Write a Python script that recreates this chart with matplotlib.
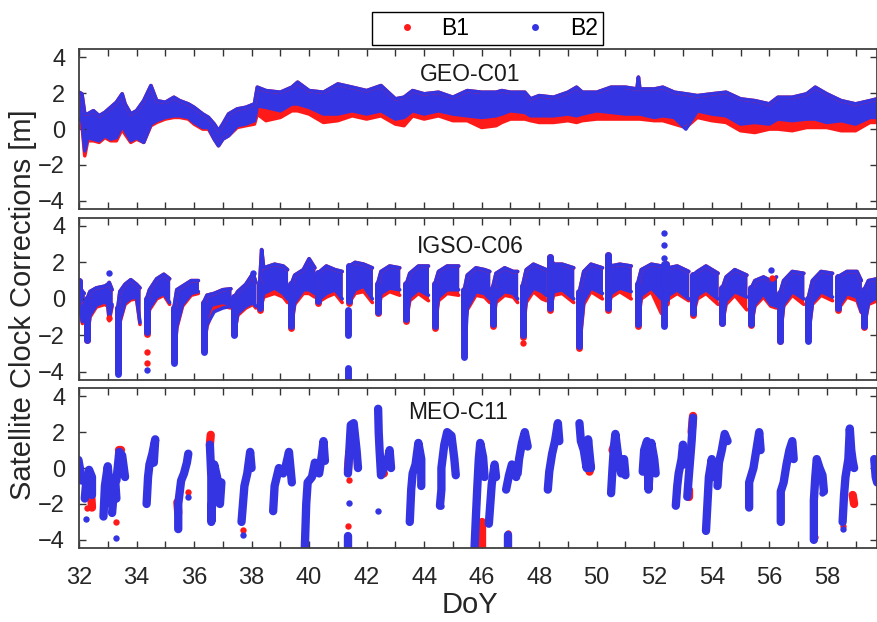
import matplotlib.pyplot as plt
from matplotlib.lines import Line2D
from matplotlib.ticker import MultipleLocator

plt.rcParams['font.family'] = ['Liberation Sans', 'DejaVu Sans']

RED = '#ff1a1a'
BLUE = '#3434e2'

# ---- GEO-C01 : B2 band (lo/hi) and lower edge of B1 band ----
geo_day = [32.0, 32.1, 32.2, 32.3, 32.5, 32.7, 32.9, 33.1, 33.3, 33.5, 33.6, 33.8, 34.0, 34.25,
           34.5, 34.7, 35.0, 35.3, 35.5, 35.8, 36.0, 36.3, 36.5, 36.7, 36.85, 37.0, 37.2, 37.5,
           37.8, 38.1, 38.2, 38.5, 39.0, 39.4, 39.6, 40.0, 40.5, 41.0, 41.5, 42.0, 42.5, 43.0,
           43.3, 43.6, 44.0, 44.5, 45.0, 45.5, 46.0, 46.5, 46.7, 47.0, 47.5, 47.7, 48.0, 48.5,
           49.0, 49.3, 49.5, 50.0, 50.5, 51.0, 51.4, 51.45, 51.5, 52.0, 52.3, 52.7, 53.1, 53.5,
           54.0, 54.5, 55.0, 55.5, 56.0, 56.3, 56.8, 57.3, 57.6, 58.0, 58.5, 59.0, 59.5, 59.75]
geo_b2_hi = [2.05, 1.96, 0.84, 0.84, 1.02, 0.74, 0.93, 1.21, 1.49, 1.96, 1.40, 0.84, 1.02, 1.58,
             2.42, 1.58, 1.49, 1.77, 1.58, 1.40, 1.21, 0.84, 0.65, 0.28, -0.09, 0.28, 0.84, 1.12,
             1.21, 1.40, 2.33, 2.14, 2.05, 2.33, 2.61, 2.14, 2.05, 2.51, 2.33, 2.14, 2.42, 1.68,
             1.77, 2.14, 1.96, 2.05, 1.77, 2.14, 2.05, 2.05, 2.14, 2.05, 2.05, 1.68, 1.86, 1.77,
             2.05, 2.33, 2.05, 2.05, 2.33, 2.33, 2.23, 2.89, 2.23, 2.23, 2.33, 2.05, 1.96, 1.86,
             1.96, 2.05, 1.68, 1.58, 1.40, 1.77, 1.77, 1.96, 2.33, 1.96, 1.58, 1.40, 1.58, 1.68]
geo_b2_lo = [0.47, 0.56, -1.21, -0.47, -0.56, -0.65, -0.37, -0.56, -0.47, 0.19, -0.09, -0.65, -0.47, -0.74,
             0.28, 0.47, 0.65, 0.74, 0.74, 0.65, 0.37, 0.09, 0.09, -0.56, -0.93, -0.56, -0.37, 0.19,
             0.28, 0.47, 1.30, 1.21, 1.02, 1.40, 1.40, 1.21, 0.84, 0.84, 1.02, 0.84, 1.02, 0.56,
             0.65, 1.02, 0.84, 1.02, 0.84, 0.74, 0.65, 0.74, 0.84, 1.02, 0.93, 0.74, 0.74, 0.74,
             0.84, 0.74, 0.84, 1.02, 0.93, 0.84, 0.84, 0.84, 0.84, 0.65, 0.74, 0.65, 0.0, 1.02,
             0.84, 0.74, 0.28, 0.37, 0.28, 0.56, 0.47, 0.56, 0.56, 0.37, 0.47, 0.28, 0.65, 0.65]
geo_b1_lo = [0.09, 0.28, -1.49, -0.65, -0.65, -0.74, -0.47, -0.65, -0.65, 0.0, -0.28, -0.74, -0.56, -0.74,
             0.19, 0.37, 0.56, 0.65, 0.65, 0.56, 0.28, 0.0, 0.0, -0.56, -0.93, -0.56, -0.37, 0.09,
             0.19, 0.28, 0.84, 0.47, 0.65, 1.02, 1.02, 0.84, 0.37, 0.47, 0.74, 0.56, 0.74, 0.28,
             0.19, 0.74, 0.56, 0.74, 0.47, 0.47, 0.09, 0.19, 0.37, 0.56, 0.56, 0.47, 0.37, 0.37,
             0.47, 0.37, 0.47, 0.56, 0.56, 0.56, 0.56, 0.56, 0.56, 0.47, 0.47, 0.28, 0.09, 0.65,
             0.47, 0.37, -0.09, -0.19, 0.0, 0.0, -0.09, 0.09, 0.09, 0.09, -0.09, -0.09, 0.37, 0.37]

# ---- IGSO-C06 : daily arcs, each vertex = (day, B2 lo, B2 hi, B1 lo) ----
igso_arcs = [
    [(32.0, -0.05, 0.96, -0.1), (32.05, -0.6, 0.6, -0.7), (32.12, -1.25, 0.4, -1.35), (32.18, -0.7, 0.3, -0.8)],
    [(32.28, -2.25, 0.0, -2.25), (32.38, -0.9, 0.4, -1.0), (32.6, -0.35, 0.6, -0.45), (32.9, -0.15, 0.7, -0.3),
     (33.0, -0.3, 0.8, -0.4), (33.05, -1.05, 0.9, -1.2), (33.15, -0.3, 0.5, -0.4)],
    [(33.35, -4.1, -0.5, -3.9), (33.42, -1.2, 0.4, -1.3), (33.6, -0.2, 0.8, -0.3), (33.8, 0.05, 1.05, -0.05),
     (34.0, 0.1, 0.8, 0.0), (34.12, -1.3, 0.6, -1.4)],
    [(34.35, -1.8, 0.0, -1.9), (34.45, -0.5, 0.5, -0.6), (34.7, 0.1, 1.1, 0.0), (34.95, 0.3, 1.35, 0.2),
     (35.15, -0.2, 1.1, -0.3)],
    [(35.3, -3.5, -0.5, -3.4), (35.4, -1.5, 0.5, -1.6), (35.6, -0.3, 0.7, -0.4), (35.9, 0.3, 1.0, 0.2),
     (36.15, 0.4, 1.0, 0.3)],
    [(36.33, -2.9, -0.2, -2.8), (36.45, -1.4, 0.2, -1.5), (36.7, -0.7, 0.3, -0.5), (37.0, -0.5, 0.5, -0.4),
     (37.28, -0.4, 0.55, -0.5)],
    [(37.4, -2.0, 0.1, -1.9), (37.52, -0.8, 0.4, -0.9), (37.8, -0.4, 0.8, -0.5), (38.05, -0.2, 1.4, -0.3),
     (38.15, -0.4, 0.9, -0.5)],
    [(38.28, -0.5, 0.8, -0.6), (38.35, -0.2, 2.7, -0.3), (38.42, 0.3, 1.7, 0.1), (38.8, 0.6, 1.9, 0.3),
     (39.1, 0.3, 1.8, 0.1), (39.25, 0.0, 1.6, -0.2)],
    [(39.38, -1.5, 0.8, -1.6), (39.5, -0.2, 1.3, -0.3), (39.8, 0.5, 1.6, 0.3), (40.0, 0.5, 2.2, 0.3),
     (40.2, 0.3, 1.7, 0.1)],
    [(40.3, -0.1, 1.4, -0.2), (40.6, 0.3, 1.8, 0.1), (40.9, 0.5, 1.6, 0.3), (41.15, 0.0, 1.5, -0.2)],
    [(41.4, -0.1, 1.8, -0.2), (41.6, 0.5, 2.0, 0.3), (41.9, 0.7, 1.9, 0.4), (42.2, 0.0, 1.7, -0.2)],
    [(42.38, -0.7, 0.8, -0.8), (42.5, 0.3, 1.5, 0.1), (42.8, 0.6, 1.8, 0.4), (43.15, 0.5, 1.7, 0.2)],
    [(43.38, -1.1, 0.8, -1.2), (43.5, 0.1, 1.4, -0.1), (43.8, 0.5, 1.8, 0.3), (44.15, 0.2, 1.8, -0.1)],
    [(44.37, -1.5, 0.8, -1.6), (44.5, 0.1, 1.5, -0.1), (44.8, 0.5, 1.8, 0.3), (45.2, 0.5, 1.8, 0.2)],
    [(45.4, -3.2, 0.5, -1.6), (45.5, -0.5, 1.3, -0.6), (45.8, 0.4, 1.7, 0.2), (46.1, 0.3, 1.6, 0.1),
     (46.28, 0.0, 1.5, -0.2)],
    [(46.38, -1.4, 0.6, -1.5), (46.5, 0.0, 1.4, -0.2), (46.8, 0.4, 1.7, 0.2), (47.1, 0.3, 1.5, 0.1),
     (47.25, 0.0, 1.5, -0.2)],
    [(47.42, -2.0, 0.7, -2.1), (47.55, 0.0, 1.6, -0.2), (47.8, 0.6, 1.9, 0.4), (48.1, 0.4, 1.7, 0.0),
     (48.25, 0.2, 1.6, -0.1)],
    [(48.38, -0.5, 2.3, -0.6), (48.5, 0.4, 1.9, 0.2), (48.8, 0.5, 1.9, 0.3), (49.2, 0.0, 1.7, -0.2)],
    [(49.4, -2.6, 0.4, -2.7), (49.55, -0.1, 1.5, -0.3), (49.8, 0.6, 1.9, 0.4), (50.2, 0.3, 1.7, 0.0)],
    [(50.38, -0.5, 2.4, -0.6), (50.5, 0.3, 1.8, 0.1), (50.8, 0.6, 1.9, 0.4), (51.2, 0.4, 1.8, 0.0)],
    [(51.42, -1.4, 0.8, -1.5), (51.55, 0.2, 1.6, 0.0), (51.9, 0.6, 1.9, 0.4), (52.25, 0.0, 1.8, -0.8)],
    [(52.42, 0.0, 1.9, -0.2), (52.5, 0.2, 1.7, 0.0), (52.8, 0.5, 1.8, 0.3), (53.2, 0.0, 1.5, -0.1)],
    [(53.35, -0.8, 1.3, -0.9), (53.5, 0.2, 1.5, 0.0), (53.8, 0.5, 1.8, 0.3), (54.22, 0.0, 1.4, -0.3)],
    [(54.37, -1.3, 0.6, -1.35), (54.5, -0.1, 1.2, -0.3), (54.8, 0.4, 1.6, 0.2), (55.22, 0.1, 1.3, -0.6)],
    [(55.38, -1.4, 0.6, -1.45), (55.5, -0.3, 1.0, -0.4), (55.8, 0.3, 1.2, 0.1), (56.05, -0.3, 1.0, -0.4),
     (56.25, -0.4, 1.2, -0.5)],
    [(56.37, -2.3, 0.3, -2.3), (56.5, -0.3, 1.0, -0.4), (56.8, 0.4, 1.5, 0.2), (57.2, 0.0, 1.4, -0.3)],
    [(57.35, -2.3, 0.0, -2.0), (57.5, -0.2, 1.0, -0.3), (57.8, 0.4, 1.5, 0.2), (58.2, 0.1, 1.4, -0.1)],
    [(58.38, -0.5, 1.2, -0.6), (58.7, 0.3, 1.5, 0.1), (59.05, 0.1, 1.5, -0.1), (59.2, -0.7, 1.0, -0.75)],
    [(59.3, -1.5, 0.5, -1.55), (59.45, -0.2, 1.0, -0.3), (59.75, 0.1, 1.1, -0.1)],
]
igso_b2_streaks = [
    [(41.35, -0.6), (41.35, -2.0)],
    [(41.35, -3.8), (41.35, -4.5)],
    [(52.35, -1.5), (52.35, 1.9)],
]
igso_b2_dots = [(33.05, 1.4), (34.35, -3.9), (38.05, 1.4), (52.35, 2.24), (52.35, 2.97),
                (52.35, 3.6), (56.05, 1.6)]
igso_b1_dots = [(33.05, -1.05), (34.35, -2.9), (34.35, -3.5), (47.42, -2.4), (56.1, 1.15)]

# ---- MEO-C11 : passes as polylines of (day, value) ----
meo_b2_passes = [
    [(31.98, 0.45), (32.05, -0.2), (32.1, -0.7)],
    [(32.2, -1.7), (32.25, -0.8), (32.35, -0.1), (32.45, -0.5), (32.45, -1.5)],
    [(32.85, -2.7), (32.9, -1.0), (33.0, 0.1), (33.05, -0.8), (33.1, -2.0)],
    [(33.15, -2.5), (33.2, -1.5), (33.25, -0.5), (33.3, -1.7)],
    [(33.3, -0.7), (33.4, 0.9), (33.5, 0.7), (33.6, -0.5)],
    [(34.35, -2.0), (34.4, -0.5), (34.45, 0.2), (34.55, 0.8), (34.65, 1.6), (34.6, 0.3)],
    [(35.45, -3.4), (35.45, -2.0), (35.55, -0.7), (35.65, -0.3), (35.75, 0.3), (35.8, 0.8)],
    [(36.55, 1.3), (36.6, -0.5), (36.6, -3.0), (36.65, -1.0), (36.7, 0.2), (36.8, -0.5),
     (36.9, -2.0), (36.95, -0.8)],
    [(37.65, -3.0), (37.7, -2.0), (37.75, -1.0), (37.85, -0.3), (37.95, 0.9), (38.0, 0.0)],
    [(38.75, -2.4), (38.8, -1.0), (38.95, 0.0), (39.1, -0.3), (39.2, 0.2), (39.3, 0.9), (39.4, -0.8)],
    [(39.85, -4.5), (39.9, -2.0), (39.95, -0.8), (40.1, -0.5), (40.2, 0.3), (40.35, -0.3),
     (40.45, 0.8), (40.5, 1.5), (40.55, 0.4)],
    [(41.35, -0.3), (41.4, 1.0), (41.45, 2.4), (41.55, 2.5), (41.65, 1.0), (41.7, 0.0)],
    [(41.35, -3.8), (41.35, -4.5)],
    [(42.4, 3.3), (42.42, 2.0), (42.45, 1.0), (42.5, -0.4), (42.6, 0.0), (42.7, 0.2), (42.8, 1.0), (42.85, 0.0)],
    [(43.5, -3.0), (43.55, -1.2), (43.6, -0.3), (43.7, 0.2), (43.8, 1.4), (43.9, 0.5), (43.9, -1.0)],
    [(44.55, -2.1), (44.6, -1.2), (44.6, 0.0), (44.7, 1.3), (44.8, 2.0), (44.95, 1.8), (45.05, 0.5), (45.1, -0.4)],
    [(45.75, -4.5), (45.8, -2.7), (45.85, -1.0), (45.9, 0.5), (45.95, 1.4), (46.05, 0.6), (46.1, -0.5)],
    [(46.25, -3.1), (46.3, -2.0), (46.35, -0.9), (46.45, 0.2), (46.5, -0.5)],
    [(46.85, -1.2), (46.95, -0.4), (47.05, 0.2), (47.15, 0.1), (47.2, -0.5)],
    [(46.9, -3.7), (46.9, -4.5)],
    [(47.25, -0.3), (47.3, 0.5), (47.4, 1.4), (47.5, 2.0), (47.6, 1.2)],
    [(48.3, -1.2), (48.35, -0.2), (48.45, 0.8), (48.55, 1.5), (48.65, 2.5), (48.7, 1.5)],
    [(49.4, 2.5), (49.45, 1.5), (49.55, 1.0), (49.65, 0.0), (49.7, 1.6), (49.8, 0.0)],
    [(50.5, -1.4), (50.55, 0.0), (50.6, 1.2), (50.65, 1.9), (50.75, 0.6), (50.85, -0.3), (50.95, 0.5), (51.0, -0.4)],
    [(51.6, -0.2), (51.65, 1.0), (51.75, 1.5), (51.8, -1.2), (51.9, 1.4), (52.0, 0.5), (52.05, -0.3)],
    [(52.75, -2.1), (52.8, -1.0), (52.85, -0.3), (52.95, 0.5), (53.0, 1.3), (53.05, 0.2)],
    [(53.15, -1.6), (53.2, -0.5), (53.25, 0.5), (53.3, 1.5), (53.35, 2.8)],
    [(53.8, -3.5), (53.85, -2.0), (53.9, -0.5), (54.0, 0.5), (54.05, -0.5), (54.1, 0.3)],
    [(54.2, -1.0), (54.25, 0.3), (54.35, 1.0), (54.45, 1.9), (54.55, 1.5)],
    [(55.3, -2.2), (55.3, -0.8), (55.45, 0.0), (55.55, 1.0), (55.65, 2.0), (55.7, 1.0)],
    [(56.4, -3.0), (56.4, -1.3), (56.5, -0.8), (56.6, 0.2), (56.7, 1.0), (56.8, 1.5), (56.85, 0.5)],
    [(57.55, -4.0), (57.55, -1.8), (57.6, -0.5), (57.65, 0.5), (57.75, 0.0), (57.85, -0.4), (57.9, -1.3)],
    [(58.55, -3.0), (58.6, -1.5), (58.65, -0.5), (58.75, 0.5), (58.8, 2.2), (58.85, 1.0), (58.9, 0.4), (58.95, 0.0)],
    [(59.65, 0.5), (59.7, -0.5), (59.75, -0.8)],
]
meo_b2_dots = [(32.25, -2.85), (33.3, -3.9), (35.8, -1.6), (37.7, -3.7), (41.4, -1.94),
               (42.38, -2.4), (44.6, -2.13), (57.85, -1.4), (58.55, -3.4)]
meo_b1_passes = [
    [(32.42, -1.4), (32.45, -2.2)],
    [(33.38, 1.0), (33.45, 1.0)],
    [(35.42, -1.9), (35.45, -2.5)],
    [(36.55, 1.3), (36.58, 1.85)],
    [(41.35, -0.1), (41.4, 0.9)],
    [(42.5, -0.2), (42.6, -0.3)],
    [(46.0, -3.0), (46.0, -4.4)],
    [(49.75, -0.2), (49.8, 0.1)],
    [(50.55, 1.0), (50.6, 1.2)],
    [(53.3, 2.0), (53.35, 2.9)],
    [(53.2, -1.6), (53.2, -1.2)],
    [(58.9, -1.5), (58.95, -2.0)],
]
meo_b1_dots = [(32.28, -2.2), (33.3, -3.0), (35.8, -1.35), (37.7, -3.45), (41.4, -0.65),
               (41.35, -3.2), (41.35, -3.8), (46.9, -3.6), (57.6, -3.85), (58.55, -3.25)]

panel_names = ['GEO-C01', 'IGSO-C06', 'MEO-C11']
name_pos = [(0.49, 0.84), (0.49, 0.82), (0.475, 0.85)]
day_ticks = list(range(32, 60, 2))


def band(ax, day, lo, hi, color):
    ax.fill_between(day, lo, hi, color=color, lw=0)
    for edge in (lo, hi):
        ax.plot(day, edge, color=color, lw=2.6, solid_joinstyle='round', solid_capstyle='round')


def streak(ax, pts, color, lw=5.0):
    ax.plot([p[0] for p in pts], [p[1] for p in pts], color=color, lw=lw,
            solid_joinstyle='round', solid_capstyle='round')


def dots(ax, pts, color):
    ax.plot([p[0] for p in pts], [p[1] for p in pts], 'o', color=color, ms=4.6, mew=0)


fig = plt.figure(figsize=(8.78, 6.22), dpi=100)
boxes = [[0.09, 0.664, 0.909, 0.257], [0.09, 0.389, 0.909, 0.261], [0.09, 0.119, 0.909, 0.257]]
axs = [fig.add_axes(b) for b in boxes]

# GEO
ax = axs[0]
band(ax, geo_day, geo_b1_lo, geo_b2_hi, RED)
band(ax, geo_day, geo_b2_lo, geo_b2_hi, BLUE)

# IGSO
ax = axs[1]
for arc in igso_arcs:
    d = [v[0] for v in arc]
    band(ax, d, [v[3] for v in arc], [v[2] for v in arc], RED)
    streak(ax, [(arc[0][0], arc[0][3]), (arc[0][0], arc[0][2])], RED)
for arc in igso_arcs:
    d = [v[0] for v in arc]
    band(ax, d, [v[1] for v in arc], [v[2] for v in arc], BLUE)
    streak(ax, [(arc[0][0], arc[0][1]), (arc[0][0], arc[0][2])], BLUE)
dots(ax, igso_b1_dots, RED)
for s in igso_b2_streaks:
    streak(ax, s, BLUE)
dots(ax, igso_b2_dots, BLUE)

# MEO
ax = axs[2]
for s in meo_b1_passes:
    streak(ax, s, RED, lw=6)
dots(ax, meo_b1_dots, RED)
for s in meo_b2_passes:
    streak(ax, s, BLUE, lw=6)
dots(ax, meo_b2_dots, BLUE)

for ax, name, pos in zip(axs, panel_names, name_pos):
    ax.set_xlim(32, 59.75)
    ax.set_ylim(-4.45, 4.45)
    ax.set_yticks([-4, -2, 0, 2, 4])
    ax.set_xticks(day_ticks)
    ax.xaxis.set_minor_locator(MultipleLocator(1))
    ax.tick_params(which='both', direction='in', top=True, right=True, length=5, width=1,
                   colors='#333333')
    ax.tick_params(axis='y', labelsize=17, labelcolor='#262626', pad=10)
    ax.tick_params(axis='x', labelsize=17, labelcolor='#262626', pad=14)
    for sp in ax.spines.values():
        sp.set_color('#404040')
        sp.set_linewidth(1.3)
    ax.text(pos[0], pos[1], name, transform=ax.transAxes, ha='center', va='center',
            fontsize=16.5, color='#1a1a1a')
    if ax is not axs[2]:
        ax.tick_params(axis='x', labelbottom=False)

fig.text(0.026, 0.51, 'Satellite Clock Corrections [m]', rotation=90, ha='center', va='center',
         fontsize=21, color='#262626')
fig.text(0.535, 0.027, 'DoY', ha='center', va='center', fontsize=21, color='#262626')

handles = [Line2D([], [], ls='none', marker='o', ms=5, mew=0, color=RED),
           Line2D([], [], ls='none', marker='o', ms=5, mew=0, color=BLUE)]
fig.legend(handles, ['B1', 'B2'], loc='upper center', bbox_to_anchor=(0.555, 0.981), ncol=2,
           fontsize=16.5, frameon=True, fancybox=False, edgecolor='black', framealpha=1,
           handlelength=2.6, handletextpad=0.2, columnspacing=1.6, borderpad=0.22,
           borderaxespad=0)

fig.savefig('out.png', dpi=100)
